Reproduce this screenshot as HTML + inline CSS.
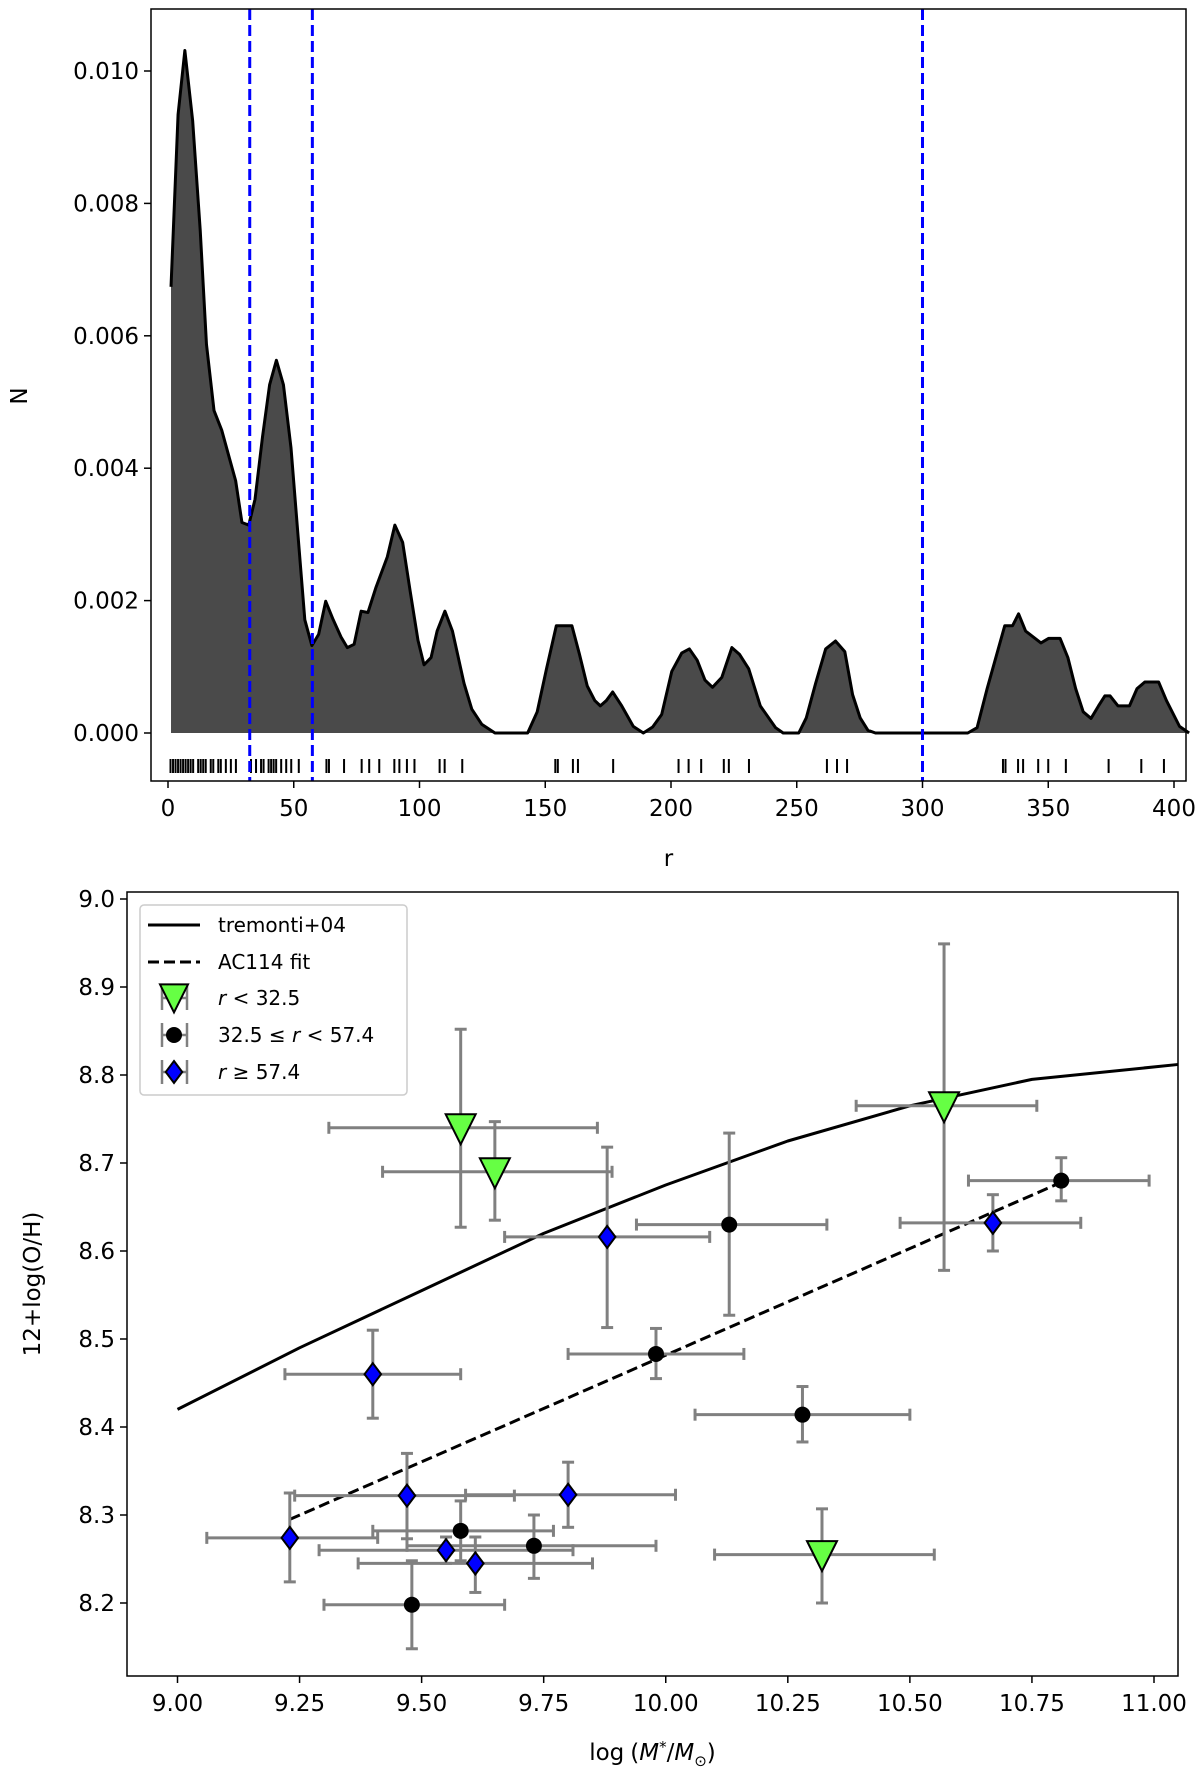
<!DOCTYPE html>
<html><head><meta charset="utf-8"><style>
body{margin:0;background:#fff}
svg{display:block;font-family:"DejaVu Sans","Liberation Sans",sans-serif}
</style></head><body>
<svg id="fig" width="1200" height="1782" viewBox="0 0 1200 1782" xmlns="http://www.w3.org/2000/svg">
<g id="top"></g>
<g id="bot"></g>
</svg>
<script>
// ---- top panel data ----
const kdeR=[1.2,4.0,6.7,9.8,12.8,15.3,18.3,21.4,24.5,26.9,29.4,32.1,34.6,37.6,40.4,43.1,45.9,48.9,52.0,54.4,57.2,59.9,62.7,65.7,68.8,71.3,74.0,76.8,79.5,82.6,87.2,90.2,93.3,96.3,99.4,101.8,104.6,107.0,110.1,113.1,117.7,120.8,124.8,130,143,146.8,150.5,154.4,160.6,163.6,166.7,169.7,171.9,174.3,176.8,180.4,185,189,192.7,196.3,200.3,204.3,207.3,210.4,213.5,216.5,220.2,224.2,227.2,230.9,235.5,241.6,244.6,250.8,253.8,257.5,261.5,265.4,269.1,272.2,275.2,278.3,281.3,318,321.7,325.7,332.7,335.8,338.2,341,347.1,350.2,354.7,357.8,360.9,363.9,367,370,372.5,374.6,377.7,382.3,385.3,388.4,393.9,397,402.2,406];
const kdeN=[.00674,.00934,.01031,.00925,.0076,.00587,.00487,.00457,.00414,.00381,.00318,.00314,.00353,.00448,.00526,.00563,.00526,.00431,.00284,.00171,.00132,.00149,.00199,.00171,.00145,.00129,.00134,.00184,.00182,.00219,.00266,.00314,.00288,.00214,.0014,.00103,.00114,.00154,.00184,.00154,.00075,.00036,.00013,0,0,.00032,.00097,.00162,.00162,.00119,.00071,.00049,.00041,.00049,.00062,.00041,.0001,0,.00009,.00028,.00093,.00121,.00127,.0011,.0008,.00069,.00084,.00129,.00119,.00097,.00041,.00008,0,0,.00023,.00075,.00127,.00139,.00123,.00058,.00023,.00004,0,0,.00008,.00067,.00162,.00162,.0018,.00154,.00136,.00143,.00143,.00114,.00067,.00032,.00022,.00041,.00056,.00056,.00041,.00041,.00067,.00077,.00077,.00049,.0001,0];
const rugR=[1,2,3,4,5,6,7,8,9,10,12,13,14,15,17,18,20,21,23,25,27,33,35,37,38,40,41,42,43,45,47,49,52,63,64,70,77,80,84,90,92,95,98,108,110,117,154,155,161,163,177,203,207,212,221,223,231,262,266,270,332,333,338,340,346,350,357,374,387,396];
const vLines=[32.5,57.4,300];
const topXTicks=[0,50,100,150,200,250,300,350,400];
const topYTicks=[0,0.002,0.004,0.006,0.008,0.010];
// ---- bottom panel data ----
const tremX=[9.0,9.25,9.5,9.75,10.0,10.25,10.5,10.75,11.05];
const tremY=[8.42,8.49,8.555,8.62,8.675,8.725,8.765,8.795,8.812];
const fitX=[9.23,10.81];
const fitY=[8.295,8.678];
const grpA_x=[9.58,9.65,10.57,10.32];
const grpA_y=[8.74,8.69,8.765,8.255];
const grpA_xlo=[9.31,9.42,10.39,10.10];
const grpA_xhi=[9.86,9.89,10.76,10.55];
const grpA_ylo=[8.627,8.635,8.578,8.20];
const grpA_yhi=[8.852,8.747,8.949,8.307];
const grpB_x=[10.81,10.13,9.98,10.28,9.58,9.73,9.48];
const grpB_y=[8.68,8.63,8.483,8.414,8.282,8.265,8.198];
const grpB_xlo=[10.62,9.94,9.80,10.06,9.40,9.47,9.30];
const grpB_xhi=[10.99,10.33,10.16,10.50,9.77,9.98,9.67];
const grpB_ylo=[8.657,8.527,8.455,8.383,8.248,8.228,8.148];
const grpB_yhi=[8.706,8.734,8.512,8.446,8.316,8.30,8.248];
const grpC_x=[9.88,10.67,9.40,9.47,9.80,9.23,9.55,9.61];
const grpC_y=[8.616,8.632,8.46,8.322,8.323,8.274,8.26,8.245];
const grpC_xlo=[9.67,10.48,9.22,9.24,9.59,9.06,9.29,9.37];
const grpC_xhi=[10.09,10.85,9.58,9.69,10.02,9.41,9.81,9.85];
const grpC_ylo=[8.513,8.60,8.41,8.273,8.286,8.224,8.245,8.212];
const grpC_yhi=[8.718,8.664,8.51,8.37,8.36,8.325,8.275,8.275];
const botXTicks=[9.00,9.25,9.50,9.75,10.00,10.25,10.50,10.75,11.00];
const botYTicks=[8.2,8.3,8.4,8.5,8.6,8.7,8.8,8.9,9.0];

const NS='http://www.w3.org/2000/svg';
function mk(parent,tag,attrs,text){const e=document.createElementNS(NS,tag);for(const k in attrs)e.setAttribute(k,attrs[k]);if(text!==undefined)e.textContent=text;parent.appendChild(e);return e;}

// ---------- TOP ----------
const T=document.getElementById('top');
const tL=151,tR=1186,tT=9,tB=781;
const tx=r=>168+(r)*(1174-168)/400;
const ty=n=>733-n*(733-71)/0.010;
let d='M'+tx(kdeR[0])+','+ty(0);
kdeR.forEach((r,i)=>{d+=' L'+tx(r)+','+ty(kdeN[i]);});
d+=' L'+tx(kdeR[kdeR.length-1])+','+ty(0)+'Z';
let area=mk(T,'path',{d:d,fill:'#4a4a4a'});


let ld='';kdeR.forEach((r,i)=>{ld+=(i?' L':'M')+tx(r)+','+ty(kdeN[i]);});
let kl=mk(T,'path',{d:ld,fill:'none',stroke:'#000','stroke-width':3,'stroke-linejoin':'round'});


rugR.forEach(r=>{let l=mk(T,'line',{x1:tx(r),x2:tx(r),y1:759,y2:773,stroke:'#000','stroke-width':2});

});
vLines.forEach(v=>{let l=mk(T,'line',{x1:tx(v),x2:tx(v),y1:tT,y2:tB,stroke:'#0000ff','stroke-width':3,'stroke-dasharray':'11,5'});

});
let tf=mk(T,'rect',{x:tL,y:tT,width:tR-tL,height:tB-tT,fill:'none',stroke:'#000','stroke-width':1.5});


topXTicks.forEach(v=>{const x=tx(v);mk(T,'line',{x1:x,x2:x,y1:tB,y2:tB+7,stroke:'#000','stroke-width':1.5});
let t=mk(T,'text',{x:x,y:tB+35,'text-anchor':'middle','font-size':23},String(v));

});
topYTicks.forEach(v=>{const y=ty(v);mk(T,'line',{x1:tL-7,x2:tL,y1:y,y2:y,stroke:'#000','stroke-width':1.5});
let t=mk(T,'text',{x:tL-12,y:y+8,'text-anchor':'end','font-size':23},v.toFixed(3));

});
let xt=mk(T,'text',{x:(tL+tR)/2,y:866,'text-anchor':'middle','font-size':23},'r');


let yt=mk(T,'text',{x:0,y:0,'text-anchor':'middle','font-size':23,transform:'translate(27,396) rotate(-90)'},'N');



// ---------- BOTTOM ----------
const B=document.getElementById('bot');
const bL=127,bR=1178,bT=892,bB=1676;
const bx=v=>177.5+(v-9)*(1154-177.5)/2;
const by=v=>899+(9-v)*(1603-899)/0.8;
let td='';tremX.forEach((x,i)=>{td+=(i?' L':'M')+bx(x)+','+by(tremY[i]);});
let trem=mk(B,'path',{d:td,fill:'none',stroke:'#000','stroke-width':3,'stroke-linejoin':'round'});


let fit=mk(B,'line',{x1:bx(fitX[0]),y1:by(fitY[0]),x2:bx(fitX[1]),y2:by(fitY[1]),stroke:'#000','stroke-width':3,'stroke-dasharray':'11,5'});


function errbars(xs,ys,xlo,xhi,ylo,yhi){
  xs.forEach((x,i)=>{
    const g=mk(B,'g',{stroke:'#808080','stroke-width':3});
    
    
    const cx=bx(x),cy=by(ys[i]);
    mk(g,'line',{x1:bx(xlo[i]),x2:bx(xhi[i]),y1:cy,y2:cy});
    mk(g,'line',{x1:bx(xlo[i]),x2:bx(xlo[i]),y1:cy-6,y2:cy+6});
    mk(g,'line',{x1:bx(xhi[i]),x2:bx(xhi[i]),y1:cy-6,y2:cy+6});
    mk(g,'line',{x1:cx,x2:cx,y1:by(ylo[i]),y2:by(yhi[i])});
    mk(g,'line',{x1:cx-6,x2:cx+6,y1:by(ylo[i]),y2:by(ylo[i])});
    mk(g,'line',{x1:cx-6,x2:cx+6,y1:by(yhi[i]),y2:by(yhi[i])});
  });
}
errbars(grpA_x,grpA_y,grpA_xlo,grpA_xhi,grpA_ylo,grpA_yhi);
errbars(grpB_x,grpB_y,grpB_xlo,grpB_xhi,grpB_ylo,grpB_yhi);
errbars(grpC_x,grpC_y,grpC_xlo,grpC_xhi,grpC_ylo,grpC_yhi);
function tri(cx,cy,s){return (cx-s)+','+(cy-s*0.9)+' '+(cx+s)+','+(cy-s*0.9)+' '+cx+','+(cy+s*1.1);}
function dia(cx,cy,s){return cx+','+(cy-s)+' '+(cx+s*0.75)+','+cy+' '+cx+','+(cy+s)+' '+(cx-s*0.75)+','+cy;}
grpA_x.forEach((x,i)=>{let p=mk(B,'polygon',{points:tri(bx(x),by(grpA_y[i]),15),fill:'#66ff44',stroke:'#000','stroke-width':2});

});
grpB_x.forEach((x,i)=>{let p=mk(B,'circle',{cx:bx(x),cy:by(grpB_y[i]),r:8,fill:'#000'});

});
grpC_x.forEach((x,i)=>{let p=mk(B,'polygon',{points:dia(bx(x),by(grpC_y[i]),11),fill:'#0000ff',stroke:'#000','stroke-width':2});

});
let bf=mk(B,'rect',{x:bL,y:bT,width:bR-bL,height:bB-bT,fill:'none',stroke:'#000','stroke-width':1.5});


botXTicks.forEach(v=>{const x=bx(v);mk(B,'line',{x1:x,x2:x,y1:bB,y2:bB+7,stroke:'#000','stroke-width':1.5});
let t=mk(B,'text',{x:x,y:bB+35,'text-anchor':'middle','font-size':23},v.toFixed(2));

});
botYTicks.forEach(v=>{const y=by(v);mk(B,'line',{x1:bL-7,x2:bL,y1:y,y2:y,stroke:'#000','stroke-width':1.5});
let t=mk(B,'text',{x:bL-12,y:y+8,'text-anchor':'end','font-size':23},v.toFixed(1));

});
let bxt=mk(B,'text',{x:(bL+bR)/2,y:1760,'text-anchor':'middle','font-size':23});
bxt.innerHTML='log<tspan dx="6">(</tspan><tspan font-style="italic">M</tspan><tspan dy="-8" font-size="15">*</tspan><tspan dy="8">/</tspan><tspan font-style="italic">M</tspan><tspan dy="6" font-size="15">⊙</tspan><tspan dy="-6">)</tspan>';


let byt=mk(B,'text',{x:0,y:0,'text-anchor':'middle','font-size':23,transform:'translate(40,1284) rotate(-90)'},'12+log(O/H)');


// legend
const L=mk(B,'g',{});


mk(L,'rect',{x:140,y:905,width:267,height:190,rx:4,fill:'#fff',stroke:'#ccc','stroke-width':1.5});
const rows=[925,962,998,1035,1072];
mk(L,'line',{x1:148,x2:200,y1:rows[0],y2:rows[0],stroke:'#000','stroke-width':3});
mk(L,'line',{x1:148,x2:200,y1:rows[1],y2:rows[1],stroke:'#000','stroke-width':3,'stroke-dasharray':'11,5'});
[2,3,4].forEach(k=>{const g=mk(L,'g',{stroke:'#808080','stroke-width':2.5});const c=rows[k];
mk(g,'line',{x1:162,x2:162,y1:c-12,y2:c+12});mk(g,'line',{x1:187,x2:187,y1:c-12,y2:c+12});mk(g,'line',{x1:162,x2:187,y1:c,y2:c});});
mk(L,'polygon',{points:tri(174,rows[2]-1,14),fill:'#66ff44',stroke:'#000','stroke-width':2});
mk(L,'circle',{cx:174,cy:rows[3],r:8,fill:'#000'});
mk(L,'polygon',{points:dia(174,rows[4],11),fill:'#0000ff',stroke:'#000','stroke-width':2});
const labs=['tremonti+04','AC114 fit','<tspan font-style="italic">r</tspan> &lt; 32.5','32.5 ≤ <tspan font-style="italic">r</tspan> &lt; 57.4','<tspan font-style="italic">r</tspan> ≥ 57.4'];
labs.forEach((s,k)=>{const t=mk(L,'text',{x:218,y:rows[k]+7,'font-size':20});t.innerHTML=s;

});
</script>
</body></html>
